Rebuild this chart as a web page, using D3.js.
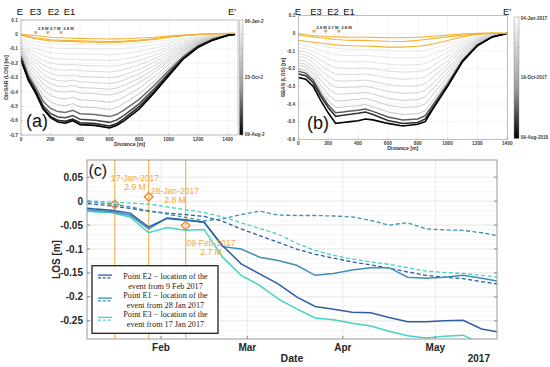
<!DOCTYPE html>
<html><head><meta charset="utf-8">
<script src="https://cdn.jsdelivr.net/npm/d3@7"></script>
<style>body{margin:0;background:#fff}svg{display:block}</style>
</head><body><svg id="fig" width="550" height="367"></svg>
<script>
// ---------------- DATA ----------------
// Panel (a): DInSAR profiles along E-E'
const distA = [0,50,100,150,200,250,300,350,400,500,600,650,700,800,900,1000,1100,1200,1300,1400,1450];
const grayA = [
 [-0.03,-0.045,-0.055,-0.06,-0.065,-0.067,-0.068,-0.068,-0.069,-0.07,-0.072,-0.071,-0.069,-0.062,-0.052,-0.04,-0.028,-0.016,-0.008,0.0,0.005],
 [-0.04,-0.06,-0.075,-0.085,-0.092,-0.096,-0.098,-0.097,-0.099,-0.1,-0.102,-0.1,-0.097,-0.087,-0.072,-0.055,-0.036,-0.02,-0.01,0.0,0.005],
 [-0.05,-0.08,-0.1,-0.115,-0.127,-0.133,-0.136,-0.134,-0.137,-0.139,-0.142,-0.139,-0.134,-0.118,-0.097,-0.072,-0.047,-0.026,-0.013,-0.002,0.004],
 [-0.06,-0.1,-0.125,-0.148,-0.163,-0.17,-0.174,-0.171,-0.176,-0.178,-0.182,-0.178,-0.171,-0.15,-0.122,-0.09,-0.057,-0.031,-0.015,-0.002,0.004],
 [-0.07,-0.12,-0.15,-0.18,-0.2,-0.208,-0.212,-0.208,-0.215,-0.218,-0.222,-0.217,-0.208,-0.182,-0.147,-0.107,-0.067,-0.036,-0.017,-0.003,0.003],
 [-0.08,-0.14,-0.175,-0.212,-0.236,-0.246,-0.25,-0.245,-0.253,-0.257,-0.262,-0.256,-0.244,-0.213,-0.171,-0.124,-0.077,-0.041,-0.019,-0.003,0.003],
 [-0.09,-0.16,-0.2,-0.245,-0.272,-0.284,-0.288,-0.282,-0.292,-0.296,-0.302,-0.295,-0.281,-0.244,-0.195,-0.14,-0.087,-0.046,-0.021,-0.004,0.003],
 [-0.1,-0.18,-0.228,-0.278,-0.308,-0.322,-0.326,-0.318,-0.331,-0.335,-0.342,-0.334,-0.317,-0.275,-0.219,-0.157,-0.097,-0.051,-0.023,-0.004,0.002],
 [-0.11,-0.2,-0.255,-0.31,-0.344,-0.36,-0.364,-0.355,-0.37,-0.374,-0.382,-0.373,-0.354,-0.306,-0.243,-0.173,-0.107,-0.056,-0.025,-0.005,0.002],
 [-0.12,-0.22,-0.28,-0.345,-0.38,-0.397,-0.402,-0.392,-0.408,-0.413,-0.422,-0.412,-0.39,-0.337,-0.267,-0.19,-0.116,-0.06,-0.027,-0.005,0.002],
 [-0.13,-0.245,-0.31,-0.385,-0.425,-0.443,-0.449,-0.437,-0.456,-0.461,-0.472,-0.46,-0.435,-0.375,-0.297,-0.21,-0.128,-0.066,-0.029,-0.005,0.002],
 [-0.14,-0.265,-0.34,-0.425,-0.47,-0.49,-0.496,-0.482,-0.504,-0.51,-0.522,-0.508,-0.48,-0.413,-0.327,-0.231,-0.14,-0.072,-0.031,-0.006,0.001],
 [-0.15,-0.285,-0.37,-0.465,-0.515,-0.537,-0.543,-0.528,-0.552,-0.558,-0.572,-0.556,-0.525,-0.452,-0.357,-0.252,-0.152,-0.078,-0.034,-0.006,0.001],
 [-0.16,-0.3,-0.39,-0.495,-0.55,-0.574,-0.58,-0.565,-0.59,-0.597,-0.612,-0.595,-0.561,-0.483,-0.381,-0.268,-0.162,-0.083,-0.036,-0.006,0.001],
 [-0.17,-0.31,-0.4,-0.51,-0.57,-0.598,-0.605,-0.59,-0.615,-0.62,-0.637,-0.62,-0.585,-0.503,-0.397,-0.28,-0.168,-0.086,-0.037,-0.006,0.001],
 [-0.18,-0.32,-0.41,-0.52,-0.58,-0.61,-0.618,-0.6,-0.628,-0.633,-0.65,-0.632,-0.6,-0.52,-0.41,-0.29,-0.17,-0.09,-0.04,-0.007,0.0]
];
const orangeA = [
 [0.0,-0.005,-0.01,-0.015,-0.02,-0.022,-0.025,-0.027,-0.028,-0.03,-0.032,-0.031,-0.03,-0.025,-0.02,-0.012,-0.005,0.0,0.003,0.006,0.008],
 [-0.005,-0.015,-0.025,-0.03,-0.037,-0.04,-0.043,-0.043,-0.045,-0.048,-0.05,-0.049,-0.047,-0.04,-0.03,-0.018,-0.008,0.0,0.004,0.007,0.008],
 [-0.005,-0.02,-0.03,-0.038,-0.045,-0.048,-0.05,-0.05,-0.052,-0.055,-0.058,-0.056,-0.053,-0.045,-0.035,-0.022,-0.01,-0.002,0.003,0.006,0.008]
];
const cbarLabelsA = ["06-Jan-2","23-Oct-2","09-Aug-2"];

// Panel (b): SBAS profiles
const distB = [0,50,100,150,200,250,300,350,400,450,500,600,700,800,850,900,1000,1100,1200,1300,1400];
const grayB = [
 [-0.04,-0.05,-0.058,-0.068,-0.078,-0.085,-0.088,-0.09,-0.09,-0.09,-0.092,-0.097,-0.1,-0.099,-0.095,-0.085,-0.062,-0.036,-0.016,-0.005,0.0],
 [-0.06,-0.068,-0.08,-0.095,-0.11,-0.12,-0.124,-0.126,-0.126,-0.125,-0.128,-0.135,-0.14,-0.138,-0.133,-0.118,-0.085,-0.048,-0.021,-0.007,0.0],
 [-0.08,-0.087,-0.103,-0.123,-0.143,-0.157,-0.16,-0.161,-0.161,-0.16,-0.164,-0.174,-0.18,-0.178,-0.171,-0.151,-0.108,-0.06,-0.026,-0.008,0.0],
 [-0.1,-0.106,-0.125,-0.152,-0.177,-0.194,-0.197,-0.198,-0.198,-0.196,-0.2,-0.213,-0.22,-0.217,-0.209,-0.184,-0.131,-0.072,-0.031,-0.009,0.0],
 [-0.115,-0.123,-0.146,-0.18,-0.21,-0.23,-0.233,-0.233,-0.233,-0.23,-0.236,-0.252,-0.26,-0.256,-0.247,-0.217,-0.154,-0.084,-0.036,-0.011,0.0],
 [-0.13,-0.14,-0.167,-0.208,-0.243,-0.268,-0.27,-0.269,-0.268,-0.264,-0.272,-0.29,-0.3,-0.296,-0.285,-0.25,-0.176,-0.095,-0.041,-0.012,0.0],
 [-0.15,-0.158,-0.19,-0.237,-0.277,-0.306,-0.307,-0.305,-0.304,-0.3,-0.308,-0.329,-0.34,-0.336,-0.323,-0.283,-0.199,-0.107,-0.046,-0.014,0.0],
 [-0.165,-0.175,-0.21,-0.265,-0.312,-0.344,-0.344,-0.34,-0.339,-0.334,-0.344,-0.368,-0.38,-0.375,-0.361,-0.316,-0.222,-0.119,-0.051,-0.015,0.0],
 [-0.18,-0.19,-0.23,-0.293,-0.347,-0.383,-0.381,-0.377,-0.374,-0.368,-0.38,-0.407,-0.42,-0.415,-0.4,-0.349,-0.245,-0.131,-0.056,-0.017,0.0],
 [-0.2,-0.21,-0.25,-0.32,-0.38,-0.42,-0.418,-0.413,-0.41,-0.403,-0.416,-0.445,-0.46,-0.455,-0.438,-0.382,-0.268,-0.143,-0.061,-0.018,0.0],
 [-0.215,-0.225,-0.265,-0.34,-0.405,-0.45,-0.446,-0.44,-0.436,-0.428,-0.442,-0.474,-0.49,-0.485,-0.466,-0.407,-0.285,-0.152,-0.065,-0.019,0.0],
 [-0.23,-0.24,-0.28,-0.355,-0.42,-0.47,-0.464,-0.458,-0.453,-0.445,-0.46,-0.493,-0.51,-0.505,-0.485,-0.423,-0.297,-0.158,-0.067,-0.02,0.0],
 [-0.25,-0.26,-0.3,-0.38,-0.45,-0.51,-0.505,-0.5,-0.495,-0.485,-0.49,-0.51,-0.525,-0.515,-0.5,-0.43,-0.3,-0.16,-0.07,-0.02,0.0]
];
const orangeB = [
 [0.0,-0.008,-0.012,-0.015,-0.018,-0.02,-0.02,-0.022,-0.022,-0.022,-0.023,-0.025,-0.025,-0.022,-0.02,-0.016,-0.01,-0.004,0.0,0.002,0.0],
 [-0.01,-0.015,-0.02,-0.025,-0.03,-0.035,-0.038,-0.04,-0.04,-0.04,-0.042,-0.045,-0.046,-0.04,-0.035,-0.03,-0.02,-0.01,-0.002,0.0,0.0],
 [-0.04,-0.045,-0.05,-0.055,-0.06,-0.065,-0.068,-0.07,-0.072,-0.072,-0.074,-0.078,-0.078,-0.073,-0.068,-0.06,-0.04,-0.02,-0.006,0.0,0.0]
];
const cbarLabelsB = ["04-Jan-2017","19-Oct-2017","09-Aug-2018"];

// earthquake markers on the profiles
const quakeDistA = [100,181,271];
const quakeDistB = [105,183,272];
const quakeMag = ["2.9 M","2.7 M","2.8 M"];
const pointNames = ["E","E3","E2","E1","E'"];

// Panel (c): LOS time series
const dates = ["2017-01-04","2017-01-10","2017-01-16","2017-01-22","2017-01-28","2017-02-03","2017-02-09","2017-02-15","2017-02-21","2017-02-27","2017-03-05","2017-03-11","2017-03-17","2017-03-23","2017-03-29","2017-04-04","2017-04-10","2017-04-16","2017-04-22","2017-04-28","2017-05-04","2017-05-10","2017-05-16","2017-05-22"];
const e2Solid  = [-0.012,-0.016,-0.019,-0.025,-0.054,-0.036,-0.040,-0.044,-0.093,-0.131,-0.152,-0.173,-0.200,-0.220,-0.226,-0.232,-0.233,-0.243,-0.252,-0.252,-0.250,-0.249,-0.267,-0.274];
const e2Dashed = [-0.004,-0.006,-0.010,-0.015,-0.021,-0.025,-0.028,-0.032,-0.042,-0.058,-0.072,-0.086,-0.100,-0.111,-0.119,-0.127,-0.133,-0.140,-0.148,-0.155,-0.159,-0.162,-0.168,-0.174];
const e1Solid  = [-0.016,-0.019,-0.022,-0.029,-0.058,-0.035,-0.039,-0.044,-0.095,-0.100,-0.117,-0.124,-0.134,-0.155,-0.151,-0.144,-0.139,-0.139,-0.159,-0.161,-0.159,-0.155,-0.161,-0.168];
const e1Dashed = [0.000,-0.002,-0.006,-0.012,-0.020,-0.027,-0.034,-0.041,-0.037,-0.028,-0.021,-0.029,-0.030,-0.030,-0.031,-0.033,-0.040,-0.050,-0.045,-0.058,-0.060,-0.061,-0.066,-0.073];
const e3Solid  = [-0.020,-0.022,-0.024,-0.033,-0.066,-0.055,-0.061,-0.059,-0.117,-0.155,-0.176,-0.204,-0.225,-0.244,-0.248,-0.255,-0.261,-0.272,-0.281,-0.286,-0.282,-0.280,-0.298,-0.310];
const e3Dashed = [0.001,0.000,-0.002,-0.004,-0.006,-0.012,-0.018,-0.024,-0.033,-0.045,-0.057,-0.069,-0.088,-0.103,-0.113,-0.121,-0.127,-0.132,-0.139,-0.146,-0.149,-0.151,-0.155,-0.159];
const eventDates = ["2017-01-17","2017-01-28","2017-02-09"];
const eventLOS = [-0.007,0.009,-0.051];
const eventText = [["17-Jan-2017","2.9 M"],["28-Jan-2017","2.8 M"],["09-Feb-2017","2.7 M"]];
const legendText = [
 ["Point E2  \u2212  location of the","event from 9 Feb 2017"],
 ["Point E1  \u2212  location of the","event from 28 Jan 2017"],
 ["Point E3  \u2212  location of the","event from 17 Jan 2017"]
];
const yTicksC = [0.05,0,-0.05,-0.1,-0.15,-0.2,-0.25];
const monthTicks = ["2017-02-01","2017-03-01","2017-04-01","2017-05-01"];

// ---------------- DRAW ----------------
const svg = d3.select("#fig");
const defs = svg.append("defs");
const parse = d3.timeParse("%Y-%m-%d");
const fmtNum = d => (d===0 ? "0" : String(+d.toFixed(2)));
const ORANGE = "#f2b233";
const SANS = "Arial, Liberation Sans, Helvetica, sans-serif";

function clip(id,x0,y0,x1,y1){
  defs.append("clipPath").attr("id",id).append("rect")
    .attr("x",x0).attr("y",y0).attr("width",x1-x0).attr("height",y1-y0);
}
function gradient(id,top,bottom){
  const g = defs.append("linearGradient").attr("id",id).attr("x1",0).attr("y1",0).attr("x2",0).attr("y2",1);
  g.append("stop").attr("offset","0%").attr("stop-color",top);
  g.append("stop").attr("offset","60%").attr("stop-color","#9a9a9a");
  g.append("stop").attr("offset","100%").attr("stop-color",bottom);
}
function grayColor(t){
  if (t <= 0.78) return d3.interpolateRgb("#e4e4e4","#b0b0b0")(t/0.78);
  return d3.interpolateRgb("#7a7a7a","#000000")((t-0.78)/0.22);
}

function profilePanel(o){
  const x = d3.scaleLinear().domain(o.xDom).range([o.x0,o.x1]);
  const y = d3.scaleLinear().domain(o.yDom).range([o.y1,o.y0]);
  const g = svg.append("g");
  g.selectAll(".gx").data(o.xTicks).join("line")
    .attr("x1",d=>x(d)).attr("x2",d=>x(d)).attr("y1",o.y0).attr("y2",o.y1)
    .attr("stroke","#e8e8e8").attr("stroke-width",0.5);
  g.selectAll(".gy").data(o.yTicks).join("line")
    .attr("y1",d=>y(d)).attr("y2",d=>y(d)).attr("x1",o.x0).attr("x2",o.x1)
    .attr("stroke","#e8e8e8").attr("stroke-width",0.5);
  clip(o.id,o.x0,o.y0,o.x1,o.y1);
  const pg = g.append("g").attr("clip-path",`url(#${o.id})`);
  const line = d3.line().x((d,i)=>x(o.dist[i])).y(d=>y(d));
  const n = o.grays.length;
  o.grays.forEach((p,i)=>{
    const t = i/(n-1);
    pg.append("path").attr("d",line(p)).attr("fill","none")
      .attr("stroke",grayColor(t)).attr("stroke-width",t>0.78 ? 1.0+0.6*t : 0.75);
  });
  o.oranges.forEach(p=>{
    pg.append("path").attr("d",line(p)).attr("fill","none")
      .attr("stroke",ORANGE).attr("stroke-width",1.1);
  });
  o.quakes.forEach((d,i)=>{
    const cx = x(d), cy = y(0.008);
    g.append("path").attr("d",`M${cx-1.5},${cy-1.6}L${cx+1.5},${cy-1.6}L${cx},${cy+0.8}Z`)
      .attr("fill","#e0b050").attr("stroke","#9a7020").attr("stroke-width",0.4);
    g.append("text").attr("x",cx+2.3).attr("y",cy-2.8).text(quakeMag[i])
      .attr("font-family",SANS).attr("font-size",4.2).attr("font-weight","bold").attr("fill","#333");
  });
  g.append("rect").attr("x",o.x0).attr("y",o.y0).attr("width",o.x1-o.x0).attr("height",o.y1-o.y0)
    .attr("fill","none").attr("stroke","#9a9a9a").attr("stroke-width",0.6);
  const style = sel => sel.attr("font-family",SANS).attr("font-size",4.8).attr("font-weight","bold").attr("fill","#404040");
  g.selectAll(".tx").data(o.xTicks).join("text").attr("x",d=>x(d)).attr("y",o.y1+5.5)
    .attr("text-anchor","middle").text(d=>d).call(style);
  g.selectAll(".ty").data(o.yTicks).join("text").attr("x",o.x0-3).attr("y",d=>y(d)+1.7)
    .attr("text-anchor","end").text(fmtNum).call(style);
  g.selectAll(".kx").data(o.xTicks).join("line").attr("x1",d=>x(d)).attr("x2",d=>x(d))
    .attr("y1",o.y1).attr("y2",o.y1-1.5).attr("stroke","#888").attr("stroke-width",0.4);
  g.selectAll(".ky").data(o.yTicks).join("line").attr("y1",d=>y(d)).attr("y2",d=>y(d))
    .attr("x1",o.x0).attr("x2",o.x0+1.5).attr("stroke","#888").attr("stroke-width",0.4);
  g.append("text").attr("x",(o.x0+o.x1)/2).attr("y",o.y1+11).attr("text-anchor","middle")
    .text("Distance [m]").attr("font-family",SANS).attr("font-size",5.2).attr("font-weight","bold").attr("fill","#333");
  g.append("text").attr("transform",`translate(${o.yLabX},${(o.y0+o.y1)/2}) rotate(-90)`).attr("text-anchor","middle")
    .text(o.yLabel).attr("font-family",SANS).attr("font-size",5.2).attr("font-weight","bold").attr("fill","#333");
  gradient(o.id+"g","#fbfbfb","#000");
  g.append("rect").attr("x",o.cbX).attr("y",o.cbY0).attr("width",o.cbW).attr("height",o.cbY1-o.cbY0)
    .attr("fill",`url(#${o.id}g)`).attr("stroke","#888").attr("stroke-width",0.4);
  const cb = d3.scaleLinear().domain([0,o.cbLabels.length-1]).range([o.cbY0+1,o.cbY1-1]);
  o.cbLabels.forEach((t,i)=>{
    g.append("text").attr("x",o.cbX+o.cbW+1.8).attr("y",cb(i)+1.6).text(t)
      .attr("font-family",SANS).attr("font-size",4.6).attr("font-weight","bold").attr("fill","#404040");
  });
  d3.range(0,1.0001,0.125).forEach(f=>{
    const yy = o.cbY0+(o.cbY1-o.cbY0)*f;
    g.append("line").attr("x1",o.cbX+o.cbW-1.2).attr("x2",o.cbX+o.cbW).attr("y1",yy).attr("y2",yy).attr("stroke","#666").attr("stroke-width",0.4);
  });
  o.names.forEach((nm,i)=>{
    g.append("text").attr("x",o.nameX[i]).attr("y",14.5).attr("text-anchor","middle").text(nm)
      .attr("font-family",SANS).attr("font-size",9.5).attr("fill","#111");
  });
  g.append("text").attr("x",o.tagX).attr("y",o.tagY).text(o.tag)
    .attr("font-family",SANS).attr("font-size",18).attr("fill","#111");
}

profilePanel({id:"pa",xDom:[0,1470],yDom:[-0.7,0.1],x0:21,x1:238,y0:20,y1:135,
  dist:distA,grays:grayA,oranges:orangeA,xTicks:[0,200,400,600,800,1000,1200,1400],
  yTicks:[0.1,0,-0.1,-0.2,-0.3,-0.4,-0.5,-0.6,-0.7],quakes:quakeDistA,
  yLabel:"DinSAR (LOS) [m]",yLabX:8,cbX:239.5,cbW:3.5,cbY0:20,cbY1:135,cbLabels:cbarLabelsA,
  names:pointNames,nameX:[20,35.5,53.5,69.5,232],tag:"(a)",tagX:26,tagY:127});

profilePanel({id:"pb",xDom:[0,1400],yDom:[-0.6,0.1],x0:298.3,x1:507.3,y0:15.7,y1:139.3,
  dist:distB,grays:grayB,oranges:orangeB,xTicks:[0,200,400,600,800,1000,1200,1400],
  yTicks:[0.1,0,-0.1,-0.2,-0.3,-0.4,-0.5,-0.6],quakes:quakeDistB,
  yLabel:"SBAS (LOS) [m]",yLabX:285,cbX:514,cbW:5,cbY0:17,cbY1:138.5,cbLabels:cbarLabelsB,
  names:pointNames,nameX:[298,316,333,349,507],tag:"(b)",tagX:307,tagY:129});

// ---------------- Panel (c) ----------------
const X0=87,X1=497,Y0=160,Y1=339;
const xC = d3.scaleTime().domain([parse("2017-01-08"),parse("2017-05-21")]).range([X0,X1]);
const yC = d3.scaleLinear().domain([-0.288,0.086]).range([Y1,Y0]);
const gc = svg.append("g");
gc.selectAll(".mg").data(d3.range(-0.28,0.085,0.01)).join("line")
  .attr("x1",X0).attr("x2",X1).attr("y1",d=>yC(d)).attr("y2",d=>yC(d))
  .attr("stroke","#f2f2f2").attr("stroke-width",0.6);
gc.selectAll(".gy").data(yTicksC).join("line")
  .attr("x1",X0).attr("x2",X1).attr("y1",d=>yC(d)).attr("y2",d=>yC(d))
  .attr("stroke","#e3e3e3").attr("stroke-width",0.7);
gc.selectAll(".gx").data(monthTicks).join("line")
  .attr("x1",d=>xC(parse(d))).attr("x2",d=>xC(parse(d))).attr("y1",Y0).attr("y2",Y1)
  .attr("stroke","#e3e3e3").attr("stroke-width",0.7);
clip("pc",X0,Y0,X1,Y1);
const pc = gc.append("g").attr("clip-path","url(#pc)");
eventDates.forEach(d=>{
  pc.append("line").attr("x1",xC(parse(d))).attr("x2",xC(parse(d))).attr("y1",Y0).attr("y2",Y1)
    .attr("stroke","#f4ad3f").attr("stroke-width",1.3).attr("opacity",0.8);
});
const lineC = d3.line().x((d,i)=>xC(parse(dates[i]))).y(d=>yC(d));
const C2="#2e5ea3", C1="#3d8fb5", C3="#44d4bf";
[[e2Dashed,C2],[e1Dashed,C1],[e3Dashed,C3]].forEach(([s,c])=>{
  pc.append("path").attr("d",lineC(s)).attr("fill","none").attr("stroke",c)
    .attr("stroke-width",1.3).attr("stroke-dasharray","4,2.5");
});
[[e3Solid,C3],[e1Solid,C1],[e2Solid,C2]].forEach(([s,c])=>{
  pc.append("path").attr("d",lineC(s)).attr("fill","none").attr("stroke",c).attr("stroke-width",1.5);
});
eventDates.forEach((d,i)=>{
  const cx=xC(parse(d)), cy=yC(eventLOS[i]), r=4.3;
  gc.append("path").attr("d",`M${cx},${cy-r}L${cx+r},${cy}L${cx},${cy+r}L${cx-r},${cy}Z`)
    .attr("fill","none").attr("stroke","#ec8a3a").attr("stroke-width",1.4);
});
const evPos = [[135,180.5,190],[175,193.5,203],[211,245.5,255]];
eventText.forEach((t,i)=>{
  [0,1].forEach(k=>{
    gc.append("text").attr("x",evPos[i][0]).attr("y",evPos[i][1+k]).attr("text-anchor","middle").text(t[k])
      .attr("font-family",SANS).attr("font-size",8.6).attr("fill","#f2a93b");
  });
});
gc.append("rect").attr("x",X0).attr("y",Y0).attr("width",X1-X0).attr("height",Y1-Y0)
  .attr("fill","none").attr("stroke","#9a9a9a").attr("stroke-width",1);
gc.selectAll(".ky").data(yTicksC).join("line").attr("x1",X0).attr("x2",X0+3).attr("y1",d=>yC(d)).attr("y2",d=>yC(d)).attr("stroke","#888");
gc.selectAll(".ky2").data(yTicksC).join("line").attr("x1",X1-3).attr("x2",X1).attr("y1",d=>yC(d)).attr("y2",d=>yC(d)).attr("stroke","#888");
gc.selectAll(".kx").data(monthTicks).join("line").attr("x1",d=>xC(parse(d))).attr("x2",d=>xC(parse(d))).attr("y1",Y1).attr("y2",Y1-3).attr("stroke","#888");
gc.selectAll(".ty").data(yTicksC).join("text").attr("x",X0-4).attr("y",d=>yC(d)+3.5).attr("text-anchor","end")
  .text(fmtNum).attr("font-family",SANS).attr("font-size",10).attr("font-weight","bold").attr("fill","#262626");
const fmtMonth = d3.timeFormat("%b");
gc.selectAll(".tx").data(monthTicks).join("text").attr("x",d=>xC(parse(d))).attr("y",350.5).attr("text-anchor","middle")
  .text(d=>fmtMonth(parse(d))).attr("font-family",SANS).attr("font-size",10).attr("font-weight","bold").attr("fill","#262626");
gc.append("text").attr("x",490).attr("y",361.5).attr("text-anchor","end").text("2017")
  .attr("font-family",SANS).attr("font-size",10).attr("font-weight","bold").attr("fill","#262626");
gc.append("text").attr("x",292).attr("y",362).attr("text-anchor","middle").text("Date")
  .attr("font-family",SANS).attr("font-size",10.5).attr("font-weight","bold").attr("fill","#262626");
gc.append("text").attr("transform",`translate(60,${(Y0+Y1)/2+10}) rotate(-90)`).attr("text-anchor","middle").text("LOS [m]")
  .attr("font-family",SANS).attr("font-size",10).attr("font-weight","bold").attr("fill","#262626");
gc.append("text").attr("x",88.5).attr("y",176).text("(c)").attr("font-family",SANS).attr("font-size",16).attr("fill","#111");
const lg = gc.append("g");
lg.append("rect").attr("x",92).attr("y",265.7).attr("width",126).attr("height",67.6)
  .attr("fill","#fff").attr("stroke","#222").attr("stroke-width",1.3);
const legY = [276.3,299.3,318.5];
const legC = [C2,C1,C3];
const legTextY = [[279.3,288.8],[298,307.5],[317,326.5]];
legendText.forEach((t,i)=>{
  lg.append("line").attr("x1",98).attr("x2",112).attr("y1",legY[i]-1.2).attr("y2",legY[i]-1.2).attr("stroke",legC[i]).attr("stroke-width",1.3);
  lg.append("line").attr("x1",98).attr("x2",112).attr("y1",legY[i]+1.6).attr("y2",legY[i]+1.6).attr("stroke",legC[i]).attr("stroke-width",1.1).attr("stroke-dasharray","3,1.7");
  t.forEach((s,k)=>{
    lg.append("text").attr("x",165.5).attr("y",legTextY[i][k]).attr("text-anchor","middle").text(s)
      .attr("font-family","Liberation Serif, DejaVu Serif, serif").attr("font-size",8.2).attr("fill","#222");
  });
});
</script>
</body></html>
